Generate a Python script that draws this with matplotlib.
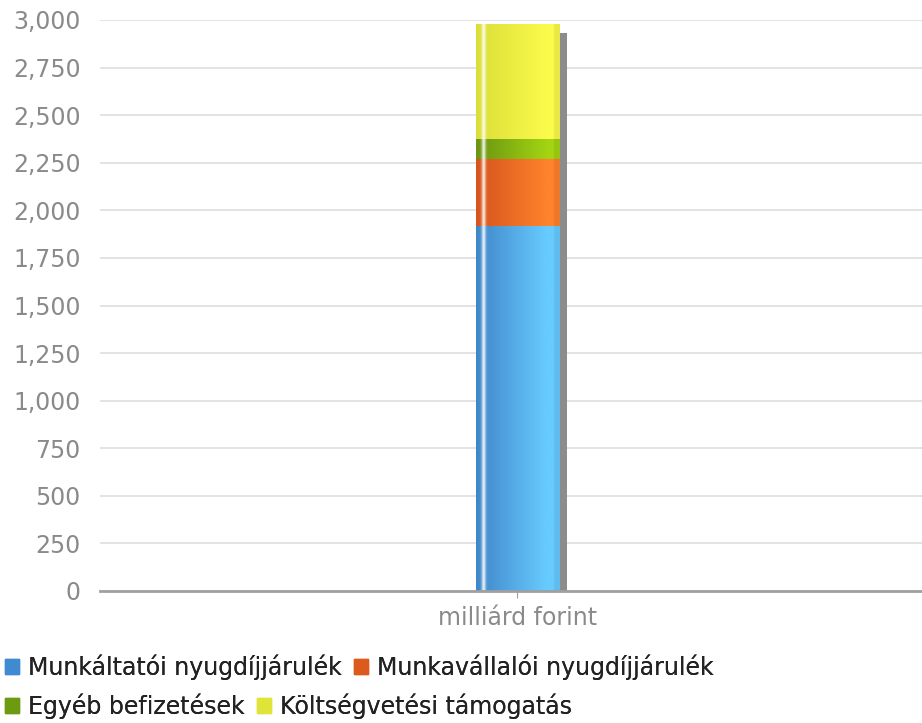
import numpy as np
import matplotlib
matplotlib.use("Agg")
import matplotlib.pyplot as plt
import matplotlib.transforms as mtransforms
from matplotlib.patches import Rectangle
from matplotlib.colors import to_rgb

categories = ["milliárd forint"]
series_names = ["Munkáltatói nyugdíjjárulék", "Munkavállalói nyugdíjjárulék",
                "Egyéb befizetések", "Költségvetési támogatás"]
series_values = [[1920], [350], [105], [600]]
yticks = [0, 250, 500, 750, 1000, 1250, 1500, 1750, 2000, 2250, 2500, 2750, 3000]

dark_cols = ["#3f86c9", "#d5541c", "#6a9412", "#dbde38"]
light_cols = ["#68cbff", "#ff822c", "#a3d411", "#fbfb4c"]
legend_cols = ["#3f8ad0", "#dd5a1e", "#6e9a10", "#e0e338"]

fig = plt.figure(figsize=(9.22, 7.23), dpi=100)
ax = fig.add_axes([100/922, 132/723, 822/922, 571/723])

for s in ["left", "right", "top"]:
    ax.spines[s].set_visible(False)
ax.spines["bottom"].set_color("#a0a0a0")
ax.spines["bottom"].set_linewidth(2)
ax.set_yticks(yticks)
ax.set_yticklabels([f"{v:,}" for v in yticks], color="#8a8a8a", fontsize=17)
ax.tick_params(axis="y", length=0, pad=14)
ax.set_xticks(range(len(categories)))
ax.set_xticklabels(categories, color="#8a8a8a", fontsize=17)
ax.tick_params(axis="x", length=5, color="#a0a0a0", pad=6)
ax.yaxis.grid(True, color="#dedede", linewidth=1.2)
ax.set_axisbelow(True)

width = 0.1
x = np.arange(len(categories))
totals = np.sum(np.array(series_values), axis=0)

# shadow
shadow_tr = ax.transData + mtransforms.ScaledTranslation(8/100, -8/100, fig.dpi_scale_trans)
ax.bar(x, totals, width=width, color="#8c8c8c", transform=shadow_tr, zorder=1)

def grad_array(dark, light, n=200):
    t = np.linspace(0, 1, n)
    d = np.array(to_rgb(dark)); l = np.array(to_rgb(light))
    frac = np.clip(t / 0.85, 0, 1)
    cols = d[None, :] * (1 - frac[:, None]) + l[None, :] * frac[:, None]
    edge = t > 0.93
    cols[edge] = cols[edge] * 0.93
    hl = np.exp(-((t - 0.09) / 0.025) ** 2)
    cols = cols * (1 - 0.85 * hl[:, None]) + 0.85 * hl[:, None]
    return cols[None, :, :]

bottoms = np.zeros(len(categories))
for i, vals in enumerate(series_values):
    vals = np.array(vals, dtype=float)
    for xi, b, v in zip(x, bottoms, vals):
        img = grad_array(dark_cols[i], light_cols[i])
        ax.imshow(img, extent=[xi - width/2, xi + width/2, b, b + v],
                  aspect="auto", zorder=2, interpolation="bilinear")
    bottoms += vals
ax.set_xlim(-0.5, 0.485)
ax.set_ylim(0, 3000)

# legend rows
rows = [[0, 1], [2, 3]]
row_y = [667, 706]
for r, yy in zip(rows, row_y):
    handles = [Rectangle((0, 0), 1, 1, color=legend_cols[k]) for k in r]
    labels = [series_names[k] for k in r]
    leg = fig.legend(handles, labels, loc="center left",
                     bbox_to_anchor=(0.0, 1 - yy / 723),
                     ncol=2, frameon=False, fontsize=17, handlelength=0.6, handleheight=0.6,
                     handletextpad=0.4, columnspacing=0.5, borderaxespad=0, borderpad=0.2,
                     labelcolor="#222222")
    fig.add_artist(leg)

fig.savefig("out.png", dpi=100)
